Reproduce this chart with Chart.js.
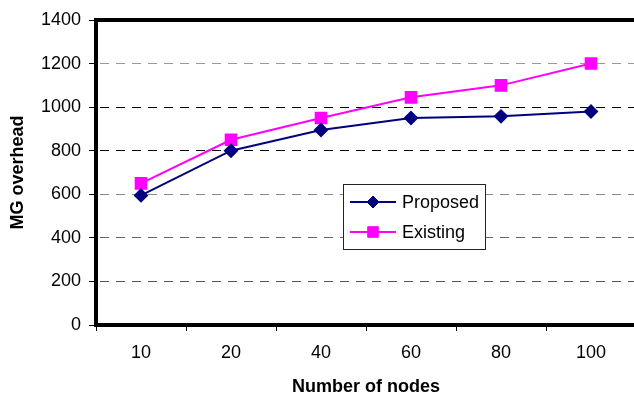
<!DOCTYPE html>
<html>
<head>
<meta charset="utf-8">
<script src="https://cdn.jsdelivr.net/npm/chart.js@4/dist/chart.umd.min.js"></script>
<style>
  html, body { margin: 0; padding: 0; background: #fff; }
  #wrap { width: 634px; height: 396px; }
</style>
</head>
<body>
<div id="wrap"><canvas id="c" width="634" height="396"></canvas></div>
<script>
// Node counts on the x axis
const nodeCounts = ['10', '20', '40', '60', '80', '100'];
// MG overhead per scheme
const proposedOverhead = [595, 800, 895, 950, 958, 980];
const existingOverhead = [650, 850, 950, 1045, 1100, 1200];
// Value axis ticks
const yTicks = [0, 200, 400, 600, 800, 1000, 1200, 1400];

const FONT = '"Liberation Sans", Arial, sans-serif';
const gridShade = { 0: '#000', 200: '#555', 400: '#666', 600: '#888', 800: '#000', 1000: '#000', 1200: '#999', 1400: '#000' };
// The plot's right edge sits just past the canvas edge
const PLOT_RIGHT = 636;

// Stretch the plot area (and the category axis with it) out to PLOT_RIGHT
const widenPlot = {
  id: 'widenPlot',
  afterLayout(chart) {
    const a = chart.chartArea;
    a.right = PLOT_RIGHT;
    a.width = a.right - a.left;
    const x = chart.scales.x;
    x.left = a.left;
    x.right = PLOT_RIGHT;
    x.width = x.right - x.left;
    x.configure();
  }
};

// Heavy black frame around the plot area
const framePlugin = {
  id: 'frame',
  beforeDatasetsDraw(chart) {
    const { ctx, chartArea: a } = chart;
    ctx.save();
    ctx.strokeStyle = '#000';
    ctx.lineWidth = 4;
    ctx.strokeRect(a.left, a.top, a.right - a.left, a.bottom - a.top);
    ctx.restore();
  }
};

// Boxed legend sitting inside the plot
const boxLegend = {
  id: 'boxLegend',
  afterDatasetsDraw(chart) {
    const { ctx } = chart;
    const x = 343, y = 184, w = 142, h = 65;
    ctx.save();
    ctx.fillStyle = '#fff';
    ctx.fillRect(x, y, w, h);
    ctx.strokeStyle = '#222';
    ctx.lineWidth = 1;
    ctx.strokeRect(x + 0.5, y + 0.5, w, h);
    const rows = [202, 232];
    chart.data.datasets.forEach((ds, i) => {
      const ry = rows[i];
      ctx.strokeStyle = ds.borderColor;
      ctx.lineWidth = 2;
      ctx.beginPath();
      ctx.moveTo(350, ry);
      ctx.lineTo(396, ry);
      ctx.stroke();
      ctx.fillStyle = ds.backgroundColor;
      ctx.strokeStyle = ds.borderColor;
      ctx.lineWidth = 1;
      Chart.helpers.drawPoint(ctx, { pointStyle: ds.pointStyle, radius: ds.pointRadius, borderWidth: 1 }, 373, ry);
      ctx.fillStyle = '#000';
      ctx.font = '18px ' + FONT;
      ctx.textBaseline = 'middle';
      ctx.textAlign = 'left';
      ctx.fillText(ds.label, 402, ry + 1);
    });
    ctx.restore();
  }
};

new Chart(document.getElementById('c'), {
  type: 'line',
  data: {
    labels: nodeCounts,
    datasets: [
      {
        label: 'Proposed',
        data: proposedOverhead,
        borderColor: '#000080',
        backgroundColor: '#000080',
        borderWidth: 2,
        pointStyle: 'rectRot',
        pointRadius: 6,
        pointHoverRadius: 6,
        tension: 0
      },
      {
        label: 'Existing',
        data: existingOverhead,
        borderColor: '#ff00ff',
        backgroundColor: '#ff00ff',
        borderWidth: 2,
        pointStyle: 'rect',
        pointRadius: 7.5,
        pointHoverRadius: 7.5,
        tension: 0
      }
    ]
  },
  options: {
    responsive: false,
    animation: false,
    events: [],
    layout: { padding: { top: 20, right: 0, bottom: 0, left: 0 } },
    plugins: {
      legend: { display: false },
      tooltip: { enabled: false }
    },
    scales: {
      x: {
        type: 'category',
        offset: true,
        afterFit(s) { s.height = 71; },
        grid: {
          offset: true,
          drawOnChartArea: false,
          drawTicks: true,
          tickLength: 6,
          tickColor: '#000',
          tickWidth: 1
        },
        border: { display: false },
        ticks: {
          color: '#000',
          font: { family: FONT, size: 18 },
          padding: 11,
          maxRotation: 0
        },
        title: {
          display: true,
          text: 'Number of nodes',
          color: '#000',
          font: { family: FONT, size: 18, weight: 'bold', lineHeight: 1 },
          padding: { top: 0, bottom: 0 }
        }
      },
      y: {
        min: 0,
        max: 1400,
        afterFit(s) { s.width = 96; },
        afterBuildTicks(s) { s.ticks = yTicks.map(v => ({ value: v })); },
        grid: {
          color: ctx => gridShade[ctx.tick ? ctx.tick.value : 0] || '#000',
          lineWidth: 1,
          drawTicks: true,
          tickLength: 7,
          tickColor: '#000',
          tickWidth: 1,
          tickBorderDash: []
        },
        border: { display: false, dash: [9, 7], dashOffset: 12 },
        ticks: {
          color: '#000',
          font: { family: FONT, size: 18 },
          padding: 8,
          callback: v => String(v)
        },
        title: {
          display: true,
          text: 'MG overhead',
          color: '#000',
          font: { family: FONT, size: 18, weight: 'bold', lineHeight: 1 },
          padding: { top: 9, bottom: 0 }
        }
      }
    }
  },
  plugins: [widenPlot, framePlugin, boxLegend]
});
</script>
</body>
</html>
